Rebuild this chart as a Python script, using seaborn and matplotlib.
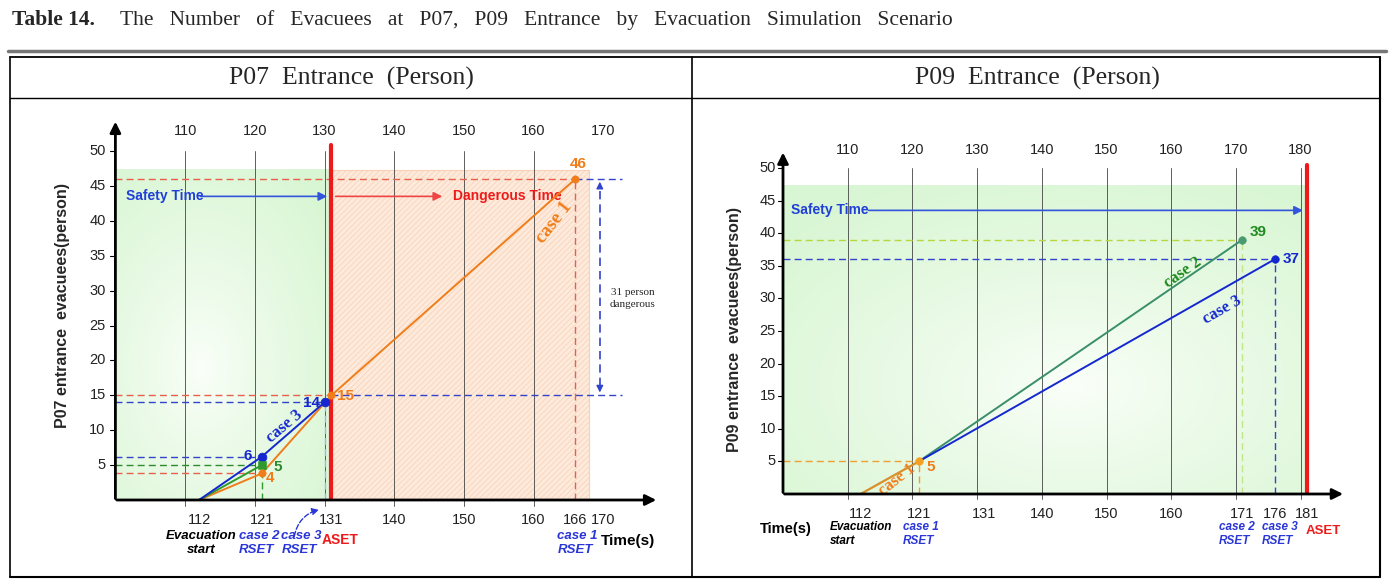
import numpy as np
import matplotlib
matplotlib.use("Agg")
import matplotlib.pyplot as plt
import seaborn as sns
from matplotlib.patches import Rectangle
from matplotlib.lines import Line2D

# ---- data: P07 entrance ----
p07_case1_t = [112, 121, 131, 166]
p07_case1_n = [0, 3.8, 15, 46]
p07_case2_t = [112, 121]
p07_case2_n = [0, 5]
p07_case3_t = [112, 121, 130]
p07_case3_n = [0, 6.2, 14]
p07_aset = 131
p07_top_ticks = [110, 120, 130, 140, 150, 160, 170]
p07_grid = [110, 120, 130, 140, 150, 160]
p07_bottom_ticks = [112, 121, 131, 140, 150, 160, 166, 170]
p07_point_labels = [("46", 166.4, 48.2, "#f07d1a"), ("15", 133.0, 14.9, "#f07d1a"),
                    ("14", 128.2, 13.9, "#1528d0"), ("6", 119.0, 6.3, "#1528d0"),
                    ("5", 123.3, 4.7, "#2e8b2e"), ("4", 122.2, 3.1, "#f07d1a")]

# ---- data: P09 entrance ----
p09_case1_t = [112, 121]
p09_case1_n = [0, 5]
p09_case2_t = [121, 171]
p09_case2_n = [5, 39]
p09_case3_t = [121, 176]
p09_case3_n = [5, 36]
p09_aset = 181
p09_top_ticks = [110, 120, 130, 140, 150, 160, 170, 180]
p09_grid = [110, 120, 130, 140, 150, 160, 170, 180]
p09_bottom_ticks = [112, 121, 131, 140, 150, 160, 171, 176, 181]
p09_point_labels = [("39", 173.4, 40.2, "#1e8a1e"), ("37", 178.6, 36.1, "#1528d0"),
                    ("5", 122.8, 4.2, "#f07d1a")]

y_ticks = [5, 10, 15, 20, 25, 30, 35, 40, 45, 50]

sns.set_theme(style="white")
plt.rcParams["font.family"] = ["Liberation Sans", "DejaVu Sans"]
plt.rcParams["hatch.linewidth"] = 0.5

SANS = "Liberation Sans"
NARROW = ["Liberation Sans Narrow", "Liberation Sans", "DejaVu Sans"]
SERIF = "Liberation Serif"
BLUE = "#1528d0"
RED = "#ee1a1a"
ORANGE = "#f07d1a"

W, H = 1393, 579
fig = plt.figure(figsize=(W / 100, H / 100), dpi=100)


def px(x, y):
    return x / W, 1 - y / H


# ---- table frame ----
def hline(y, x0, x1, lw=1.2, color="black"):
    fig.add_artist(Line2D([x0 / W, x1 / W], [1 - y / H, 1 - y / H], lw=lw, color=color))


def vline(x, y0, y1, lw=1.2, color="black"):
    fig.add_artist(Line2D([x / W, x / W], [1 - y0 / H, 1 - y1 / H], lw=lw, color=color))


hline(51, 8, 1386, lw=2.5, color="#777777")
hline(57, 10, 1380, lw=1.3)
hline(98, 10, 1380, lw=1.0)
hline(577, 10, 1380, lw=1.5)
vline(10, 57, 577)
vline(1380, 57, 577, lw=1.5)
vline(692, 57, 577)

fig.text(*px(12, 20), "Table 14.", fontfamily=SERIF, fontweight="bold", fontsize=15.5, va="center")
fig.text(*px(120, 20), "The   Number   of   Evacuees   at   P07,   P09   Entrance   by   Evacuation   Simulation   Scenario",
         fontfamily=SERIF, fontsize=15.5, va="center")
fig.text(*px(351, 78), "P07  Entrance  (Person)", fontfamily=SERIF, fontsize=18.5, ha="center", va="center")
fig.text(*px(1037, 78), "P09  Entrance  (Person)", fontfamily=SERIF, fontsize=18.5, ha="center", va="center")


def green_bg(ax, x0, x1, y1, cx, cy):
    ny, nx = 120, 240
    yy, xx = np.mgrid[0:1:ny * 1j, 0:1:nx * 1j]
    d = np.sqrt(((xx - cx) / 0.75) ** 2 + ((yy - cy) / 0.75) ** 2)
    d = np.clip(d, 0, 1) ** 0.8
    edge = np.array([0.85, 0.965, 0.83])
    center = np.array([0.985, 1.0, 0.98])
    img = center + (edge - center) * d[..., None]
    ax.imshow(img, extent=[x0, x1, 0, y1], origin="lower", aspect="auto", zorder=0)


def frame(ax, xmax, ymax, top_ticks, grid, bottom_ticks, ytick_x, top_y, bot_y):
    for g in grid:
        ax.plot([g, g], [-0.8, 50], color="#444444", lw=0.6, zorder=1, clip_on=False)
    ax.annotate("", xy=(100, ymax), xytext=(100, -0.2),
                arrowprops=dict(arrowstyle="-|>", color="black", lw=2, mutation_scale=16),
                annotation_clip=False, zorder=6)
    ax.annotate("", xy=(xmax, 0), xytext=(99.8, 0),
                arrowprops=dict(arrowstyle="-|>", color="black", lw=2, mutation_scale=16),
                annotation_clip=False, zorder=6)
    for v in y_ticks:
        ax.plot([99.2, 100], [v, v], color="black", lw=0.8, clip_on=False)
        ax.text(ytick_x, v, str(v), ha="right", va="center", fontsize=10.5, color="#222222",
                fontfamily=NARROW)
    for t in top_ticks:
        ax.text(t, top_y, str(t), ha="center", va="center", fontsize=10.5, color="#222222",
                fontfamily=NARROW)
    for t in bottom_ticks:
        ax.text(t, bot_y, str(t), ha="center", va="center", fontsize=10.5, color="#222222",
                fontfamily=NARROW)


def line(ax, t, n, color, lw=1.4):
    sns.lineplot(x=t, y=n, ax=ax, color=color, lw=lw, sort=False, zorder=5)


def dash(ax, xs, ys, color, lw=1.0, z=3):
    ax.plot(xs, ys, ls=(0, (5, 3)), color=color, lw=lw, zorder=z, clip_on=False)


def note(ax, x, y, s, color, size=9.5, ha="left"):
    ax.text(x, y, s, color=color, fontsize=size, fontweight="bold", fontstyle="italic",
            ha=ha, va="top", linespacing=1.2)


# =================== P07 ===================
ax1 = fig.add_axes([115.4 / W, 79 / H, 557.6 / W, 383.9 / H])
green_bg(ax1, 100, p07_aset, 47.3, 0.4, 0.4)
ax1.add_patch(Rectangle((p07_aset, 0), 168 - p07_aset, 47.3, facecolor="#fdeadb",
                        edgecolor="#f8d0b6", hatch="//////", lw=0.8, zorder=0.5))
frame(ax1, 178, 54.6, p07_top_ticks, p07_grid, p07_bottom_ticks, 98.6, 52.9, -2.9)

# reference dashes
dash(ax1, [100, 166], [46, 46], "#e8604c")
dash(ax1, [166, 172.7], [46, 46], "#3344cc")
dash(ax1, [100, 131], [15, 15], "#e8604c")
dash(ax1, [131, 172.7], [15, 15], "#3344cc")
dash(ax1, [100, 130], [14, 14], "#3344cc")
dash(ax1, [100, 121], [6.2, 6.2], "#3344cc")
dash(ax1, [100, 121], [5, 5], "#2e8b2e")
dash(ax1, [100, 121], [3.8, 3.8], "#e8604c")
dash(ax1, [166, 166], [0, 46], "#e8604c")
dash(ax1, [121, 121], [0, 5], "#2e9a2e")
dash(ax1, [130, 130], [0, 14], "#9fb4e8")

ax1.plot([p07_aset, p07_aset], [0, 50.8], color=RED, lw=3, zorder=4)

line(ax1, p07_case1_t, p07_case1_n, ORANGE)
line(ax1, p07_case2_t, p07_case2_n, "#2e9a2e")
line(ax1, p07_case3_t, p07_case3_n, BLUE)
sns.scatterplot(x=[121, 130], y=[6.2, 14], ax=ax1, color=BLUE, s=40, edgecolor=BLUE, zorder=7)
sns.scatterplot(x=[121], y=[5], ax=ax1, color="#2e9a2e", marker="s", s=30, edgecolor="#2e9a2e", zorder=7)
sns.scatterplot(x=[121, 131, 166], y=[3.8, 15, 46], ax=ax1, color=ORANGE, s=28, edgecolor=ORANGE, zorder=7)

for s, x, y, c in p07_point_labels:
    ax1.text(x, y, s, color=c, fontsize=11, fontweight="bold", ha="center", va="center", zorder=8,
             fontfamily=NARROW)

ax1.text(101.5, 43.5, "Safety Time", color="#1f3fd8", fontsize=10, fontweight="bold", va="center")
ax1.annotate("", xy=(130.8, 43.5), xytext=(111.8, 43.5),
             arrowprops=dict(arrowstyle="-|>", color="#3355dd", lw=1.2, mutation_scale=13))
ax1.annotate("", xy=(147.3, 43.5), xytext=(131.2, 43.5),
             arrowprops=dict(arrowstyle="-|>", color="#ee4444", lw=1.2, mutation_scale=13))
ax1.text(148.4, 43.5, "Dangerous Time", color=RED, fontsize=10, fontweight="bold", va="center")

ax1.text(163.0, 39.8, "case 1", color=ORANGE, fontfamily=SERIF, fontsize=13.5, fontweight="bold",
         rotation=52, ha="center", va="center")
ax1.text(124.2, 10.6, "case 3", color=BLUE, fontfamily=SERIF, fontsize=12, fontweight="bold",
         rotation=40, ha="center", va="center")

# 31 person dangerous
dash(ax1, [169.5, 169.5], [16.3, 44.7], "#3344cc", lw=1.2)
ax1.annotate("", xy=(169.5, 46), xytext=(169.5, 44.4),
             arrowprops=dict(arrowstyle="-|>", color="#3344cc", lw=1, mutation_scale=10))
ax1.annotate("", xy=(169.5, 15), xytext=(169.5, 16.6),
             arrowprops=dict(arrowstyle="-|>", color="#3344cc", lw=1, mutation_scale=10))
ax1.text(174.2, 28.9, "31 person\ndangerous", fontfamily=SERIF, fontsize=8, ha="center",
         va="center", linespacing=1.5)

note(ax1, 112.3, -4.3, "Evacuation\nstart", "black", ha="center")
note(ax1, 117.7, -4.3, "case 2\nRSET", "#2a36d8")
note(ax1, 123.8, -4.3, "case 3\nRSET", "#2a36d8")
ax1.text(129.6, -4.7, "ASET", color=RED, fontsize=10, fontweight="bold", va="top")
note(ax1, 163.4, -4.3, "case 1\nRSET", "#2a36d8")
ax1.text(169.6, -5.9, "Time(s)", color="black", fontsize=11, fontweight="bold", va="center")
ax1.annotate("", xy=(129.6, -1.3), xytext=(125.6, -5.6),
             arrowprops=dict(arrowstyle="-|>", color="#2a36d8", lw=1, ls="--", mutation_scale=10,
                             connectionstyle="arc3,rad=-0.35"), annotation_clip=False)

ax1.set_xlim(100, 180)
ax1.set_ylim(0, 55)
ax1.axis("off")
fig.text(*px(62, 305), "P07 entrance  evacuees(person)", rotation=90, fontsize=11.5,
         fontweight="bold", ha="center", va="center")

# =================== P09 ===================
ax2 = fig.add_axes([783 / W, 85 / H, 582.3 / W, 358.6 / H])
green_bg(ax2, 100, p09_aset, 47.3, 0.55, 0.35)
frame(ax2, 187, 52.8, p09_top_ticks, p09_grid, p09_bottom_ticks, 98.9, 52.8, -3.1)

dash(ax2, [100, 171], [39, 39], "#b8d640")
dash(ax2, [171, 171], [0, 39], "#c8e48a")
dash(ax2, [100, 176], [36, 36], "#3344cc")
dash(ax2, [176, 176], [0, 36], "#3344cc")
dash(ax2, [100, 121], [5, 5], "#f0a030")
dash(ax2, [121, 121], [0, 5], "#f0a030")

ax2.plot([p09_aset, p09_aset], [0, 50.5], color=RED, lw=3, zorder=4)

line(ax2, p09_case1_t, p09_case1_n, "#d98f2a", lw=1.6)
line(ax2, p09_case2_t, p09_case2_n, "#3a8f6a")
line(ax2, p09_case3_t, p09_case3_n, BLUE)
sns.scatterplot(x=[121], y=[5], ax=ax2, color="#f5a020", s=30, edgecolor="#f5a020", zorder=7)
sns.scatterplot(x=[171], y=[39], ax=ax2, color="#4a9a70", s=30, edgecolor="#4a9a70", zorder=7)
sns.scatterplot(x=[176], y=[36], ax=ax2, color=BLUE, s=30, edgecolor=BLUE, zorder=7)

for s, x, y, c in p09_point_labels:
    ax2.text(x, y, s, color=c, fontsize=11, fontweight="bold", ha="center", va="center", zorder=8,
             fontfamily=NARROW)

ax2.text(101.3, 43.5, "Safety Time", color="#1f3fd8", fontsize=10, fontweight="bold", va="center")
ax2.annotate("", xy=(180.8, 43.5), xytext=(112.8, 43.5),
             arrowprops=dict(arrowstyle="-|>", color="#3355dd", lw=1.2, mutation_scale=13))

ax2.text(161.8, 33.9, "case 2", color="#1e8a1e", fontfamily=SERIF, fontsize=12, fontweight="bold",
         rotation=35, ha="center", va="center")
ax2.text(167.9, 28.2, "case 3", color=BLUE, fontfamily=SERIF, fontsize=12, fontweight="bold",
         rotation=30, ha="center", va="center")
ax2.text(117.6, 2.2, "case 1", color=ORANGE, fontfamily=SERIF, fontsize=12, fontweight="bold",
         rotation=38, ha="center", va="center")

ax2.text(100.5, -5.4, "Time(s)", color="black", fontsize=10.5, fontweight="bold", ha="center", va="center")
note(ax2, 107.2, -4.2, "Evacuation\nstart", "black", size=8.5)
note(ax2, 118.5, -4.2, "case 1\nRSET", "#2a36d8", size=8.5)
note(ax2, 167.4, -4.2, "case 2\nRSET", "#2a36d8", size=8.5)
note(ax2, 174.0, -4.2, "case 3\nRSET", "#2a36d8", size=8.5)
ax2.text(180.8, -4.8, "ASET", color=RED, fontsize=9.5, fontweight="bold", va="top")

ax2.set_xlim(100, 190)
ax2.set_ylim(0, 55)
ax2.axis("off")
fig.text(*px(735, 330), "P09 entrance  evacuees(person)", rotation=90, fontsize=11.5,
         fontweight="bold", ha="center", va="center")

fig.savefig("out.png", dpi=100)
